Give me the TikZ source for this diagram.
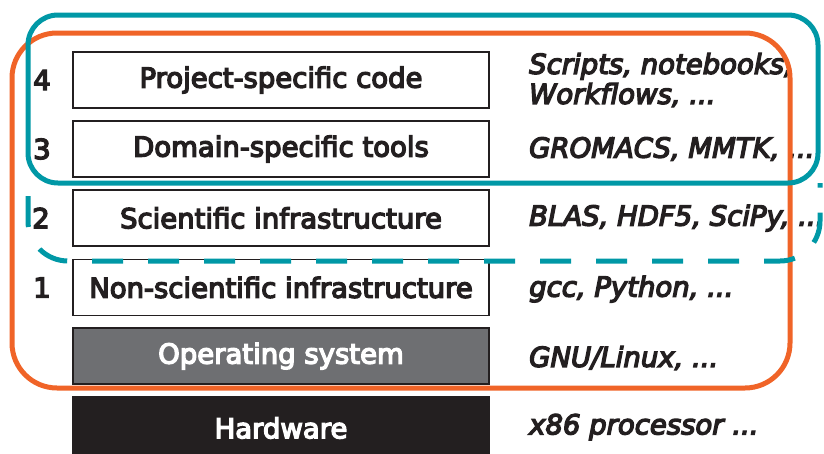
\documentclass[tikz,border=0pt]{standalone}
\usepackage{fontspec}
\setmainfont{DejaVu Sans}[RawFeature={embolden=5}]
\begin{document}
\begin{tikzpicture}[x=1pt,y=-1pt]
\definecolor{ink}{RGB}{35,31,32}
\definecolor{osgray}{RGB}{110,111,114}
\definecolor{orng}{RGB}{240,100,40}
\definecolor{teal}{RGB}{0,152,166}
\tikzset{
  layer/.style={draw=ink, line width=1.4pt, minimum width=416pt, minimum height=56pt,
    inner sep=0pt, font=\fontsize{27.5}{30}\selectfont, text=ink},
  num/.style={font=\fontsize{27.5}{30}\selectfont, text=ink},
  example/.style={anchor=west, align=left, inner sep=0pt,
    font=\fontsize{27.5}{30}\selectfont\itshape, text=ink},
  group/.style={line width=5pt, rounded corners=#1},
}
\useasboundingbox (0,0) rectangle (824,453);
\clip (0,0) rectangle (824,453);
% layers
\node[layer] (l4) at (281,80) {Project-specific code};
\node[layer] (l3) at (281,149) {Domain-specific tools};
\node[layer] (l2) at (281,218) {Scientific infrastructure};
\node[layer] (l1) at (281,287.5) {Non-scientific infrastructure};
\node[layer, fill=osgray, text=white] (os) at (281,356) {Operating system};
\node[layer, fill=ink, text=white, minimum height=62pt] (hw) at (281,428) {Hardware};
% numbers
\node[num] (n4) at (42,80) {4};
\node[num] (n3) at (42,149) {3};
\node[num] (n2) at (41,218) {2};
\node[num] (n1) at (42,287.5) {1};
% examples
\node[example] (e4) at (529,80) {Scripts, notebooks,\\Workflows, ...};
\node[example] (e3) at (529,149) {GROMACS, MMTK, ...};
\node[example] (e2) at (529,218) {BLAS, HDF5, SciPy, ...};
\node[example] (e1) at (529,289) {gcc, Python, ...};
\node[example] (eos) at (529,358) {GNU/Linux, ...};
\node[example] (ehw) at (529,427) {x86 processor ...};
% groups
\draw[orng, group=45pt] (12,33) rectangle (790,388);
\draw[teal, group=30pt] (28,15) rectangle (818,183);
\draw[teal, line width=5pt, dash pattern=on 31pt off 25pt, dash phase=43pt, rounded corners=40pt]
  (28,183) -- (28,261) -- (820,261) -- (820,183);
\end{tikzpicture}
\end{document}
